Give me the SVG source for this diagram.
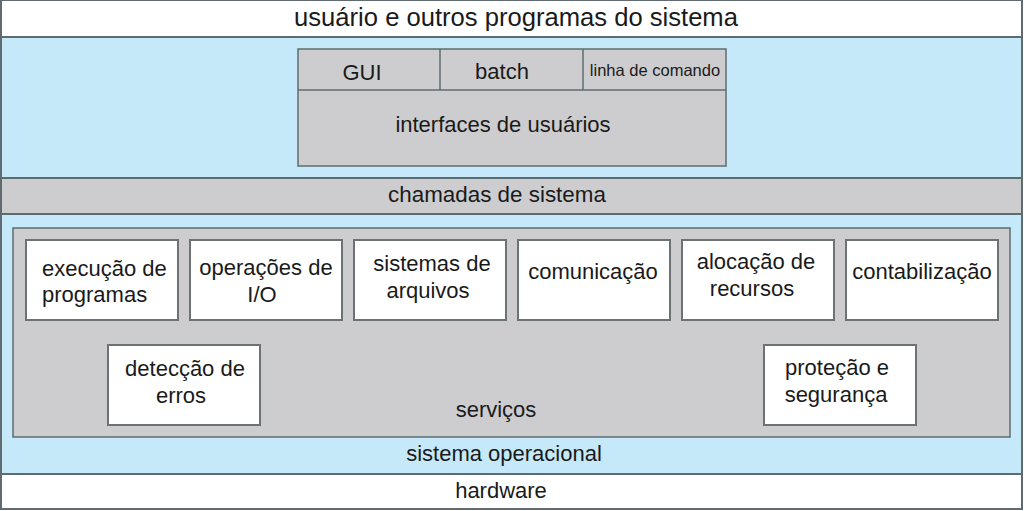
<svg xmlns="http://www.w3.org/2000/svg" width="1024" height="511" viewBox="0 0 1024 511">
<style>
text{font-family:"Liberation Sans",Arial,sans-serif;fill:#1a1a1a;text-anchor:middle;font-size:22px}
.band{stroke:#5f6b70;stroke-width:2}
.blue{fill:#c6e9f9}
.gray{fill:#cdcdcf}
.white{fill:#ffffff}
.box{fill:#ffffff;stroke:#6d7275;stroke-width:2}
.gbox{fill:#cdcdcf;stroke:#5f6b70;stroke-width:1.5}
</style>
<g id="layer-usuario">
<rect class="band white" x="1" y="0" width="1021" height="37"/>
<text x="516" y="26" style="font-size:25.6px">usuário e outros programas do sistema</text>
</g>
<g id="layer-blue-top">
<rect class="band blue" x="1" y="37" width="1021" height="141"/>
</g>
<g id="interfaces">
<rect class="gbox" x="298" y="49" width="428" height="117"/>
<line x1="298" y1="90" x2="726" y2="90" stroke="#5f6b70" stroke-width="1.5"/>
<line x1="440" y1="49" x2="440" y2="90" stroke="#5f6b70" stroke-width="1.5"/>
<line x1="583" y1="49" x2="583" y2="90" stroke="#5f6b70" stroke-width="1.5"/>
<text x="362" y="80">GUI</text>
<text x="502" y="79">batch</text>
<text x="655" y="76" style="font-size:16.5px">linha de comando</text>
<text x="503" y="132">interfaces de usuários</text>
</g>
<g id="chamadas">
<rect class="band gray" x="1" y="178" width="1021" height="36"/>
<text x="497" y="202" style="font-size:22.4px">chamadas de sistema</text>
</g>
<g id="sistema-operacional">
<rect class="band blue" x="1" y="214" width="1021" height="260"/>
<text x="504" y="461">sistema operacional</text>
</g>
<g id="servicos">
<rect class="gbox" x="13" y="228" width="997" height="209"/>
<text x="496" y="417">serviços</text>
</g>
<g id="execucao">
<rect class="box" x="26" y="240" width="152" height="80"/>
<text x="42" y="276" style="text-anchor:start">execução de</text>
<text x="42" y="302" style="text-anchor:start">programas</text>
</g>
<g id="operacoes">
<rect class="box" x="190" y="240" width="152" height="80"/>
<text x="266" y="275">operações de</text>
<text x="262" y="302">I/O</text>
</g>
<g id="sistemas-arquivos">
<rect class="box" x="354" y="240" width="152" height="80"/>
<text x="432" y="271">sistemas de</text>
<text x="428" y="298">arquivos</text>
</g>
<g id="comunicacao">
<rect class="box" x="518" y="240" width="152" height="80"/>
<text x="593" y="279">comunicação</text>
</g>
<g id="alocacao">
<rect class="box" x="682" y="240" width="152" height="80"/>
<text x="756" y="269">alocação de</text>
<text x="752" y="296">recursos</text>
</g>
<g id="contabilizacao">
<rect class="box" x="846" y="240" width="152" height="80"/>
<text x="922" y="279">contabilização</text>
</g>
<g id="deteccao">
<rect class="box" x="108" y="345" width="152" height="80"/>
<text x="185" y="376">detecção de</text>
<text x="181" y="403">erros</text>
</g>
<g id="protecao">
<rect class="box" x="764" y="345" width="152" height="80"/>
<text x="837" y="375">proteção e</text>
<text x="836" y="402">segurança</text>
</g>
<g id="hardware">
<rect class="band white" x="1" y="474" width="1021" height="35"/>
<text x="501" y="498">hardware</text>
</g>
<g id="connectors"></g>
</svg>
